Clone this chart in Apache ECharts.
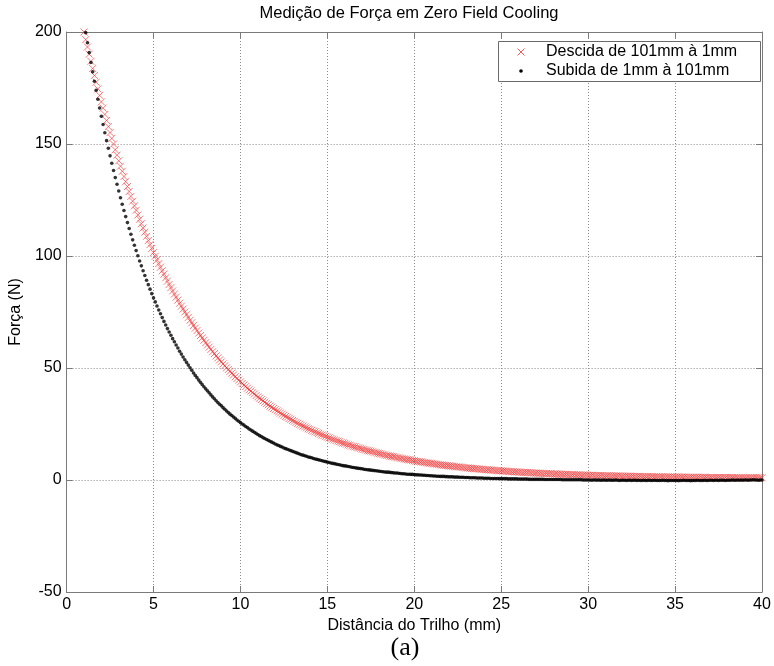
<!DOCTYPE html>
<html><head><meta charset="utf-8">
<script src="https://cdn.jsdelivr.net/npm/echarts@6/dist/echarts.min.js"></script>
<style>html,body{margin:0;padding:0;background:#fff}#c{width:774px;height:666px}</style>
</head><body><div id="c"></div>
<script>
const titleText = 'Medição de Força em Zero Field Cooling';
const xAxisName = 'Distância do Trilho (mm)';
const yAxisName = 'Força (N)';
const captionText = '(a)';
const seriesNames = ['Descida de 101mm à 1mm', 'Subida de 1mm à 101mm'];
const xRange = [0, 40, 5];
const yRange = [-50, 200, 50];

// distance grid: Descida starts at 1.0 mm, Subida at 1.1 mm, step 0.1 mm
const descidaStart = 1.0;
const subidaStart = 1.1;
const distStep = 0.1;

const descidaForce = [200.0,
196.6,193.3,190.1,186.9,183.7,180.6,177.6,174.6,171.7,168.8,
166.0,163.2,160.5,157.8,155.1,152.5,150.0,147.4,145.0,142.5,
140.1,137.8,135.5,133.2,131.0,128.8,126.6,124.5,122.4,120.4,
118.3,116.4,114.4,112.5,110.6,108.8,106.9,105.1,103.4,101.6,
99.9,98.3,96.6,95.0,93.4,91.9,90.3,88.8,87.3,85.9,
84.4,83.0,81.6,80.3,78.9,77.6,76.3,75.0,73.8,72.6,
71.3,70.2,69.0,67.8,66.7,65.6,64.5,63.4,62.4,61.3,
60.3,59.3,58.3,57.3,56.4,55.4,54.5,53.6,52.7,51.8,
51.0,50.1,49.3,48.5,47.7,46.9,46.1,45.3,44.6,43.8,
43.1,42.4,41.7,41.0,40.3,39.7,39.0,38.4,37.7,37.1,
36.5,35.9,35.3,34.7,34.1,33.6,33.0,32.5,31.9,31.4,
30.9,30.4,29.9,29.4,28.9,28.4,28.0,27.5,27.1,26.6,
26.2,25.7,25.3,24.9,24.5,24.1,23.7,23.3,22.9,22.6,
22.2,21.8,21.5,21.1,20.8,20.4,20.1,19.8,19.5,19.1,
18.8,18.5,18.2,17.9,17.6,17.4,17.1,16.8,16.5,16.3,
16.0,15.7,15.5,15.2,15.0,14.8,14.5,14.3,14.1,13.8,
13.6,13.4,13.2,13.0,12.8,12.6,12.4,12.2,12.0,11.8,
11.6,11.4,11.2,11.0,10.9,10.7,10.5,10.4,10.2,10.0,
9.9,9.7,9.6,9.4,9.3,9.1,9.0,8.9,8.7,8.6,
8.4,8.3,8.2,8.1,7.9,7.8,7.7,7.6,7.5,7.4,
7.2,7.1,7.0,6.9,6.8,6.7,6.6,6.5,6.4,6.3,
6.2,6.1,6.0,5.9,5.9,5.8,5.7,5.6,5.5,5.4,
5.4,5.3,5.2,5.1,5.0,5.0,4.9,4.8,4.8,4.7,
4.6,4.6,4.5,4.4,4.4,4.3,4.2,4.2,4.1,4.1,
4.0,4.0,3.9,3.8,3.8,3.7,3.7,3.6,3.6,3.5,
3.5,3.4,3.4,3.4,3.3,3.3,3.2,3.2,3.1,3.1,
3.1,3.0,3.0,2.9,2.9,2.9,2.8,2.8,2.8,2.7,
2.7,2.7,2.6,2.6,2.6,2.5,2.5,2.5,2.4,2.4,
2.4,2.4,2.3,2.3,2.3,2.2,2.2,2.2,2.2,2.1,
2.1,2.1,2.1,2.0,2.0,2.0,2.0,2.0,1.9,1.9,
1.9,1.9,1.8,1.8,1.8,1.8,1.8,1.8,1.7,1.7,
1.7,1.7,1.7,1.7,1.6,1.6,1.6,1.6,1.6,1.6,
1.5,1.5,1.5,1.5,1.5,1.5,1.5,1.4,1.4,1.4,
1.4,1.4,1.4,1.4,1.4,1.4,1.3,1.3,1.3,1.3,
1.3,1.3,1.3,1.3,1.3,1.3,1.2,1.2,1.2,1.2,
1.2,1.2,1.2,1.2,1.2,1.2,1.2,1.1,1.1,1.1,
1.1,1.1,1.1,1.1,1.1,1.1,1.1,1.1,1.1,1.1,
1.1,1.1,1.1,1.0,1.0,1.0,1.0,1.0,1.0,1.0,
1.0,1.0,1.0,1.0,1.0,1.0,1.0,1.0,1.0,1.0];

const subidaForce = [
199.7,195.2,190.8,186.4,182.2,178.0,174.0,170.0,166.1,162.4,
158.7,155.0,151.5,148.1,144.7,141.4,138.2,135.0,132.0,129.0,
126.0,123.1,120.3,117.6,114.9,112.3,109.7,107.2,104.8,102.4,
100.1,97.8,95.6,93.4,91.3,89.2,87.2,85.2,83.2,81.3,
79.5,77.7,75.9,74.2,72.5,70.8,69.2,67.6,66.1,64.6,
63.1,61.7,60.3,58.9,57.5,56.2,54.9,53.7,52.5,51.3,
50.1,49.0,47.8,46.7,45.7,44.6,43.6,42.6,41.6,40.7,
39.8,38.9,38.0,37.1,36.3,35.4,34.6,33.8,33.1,32.3,
31.6,30.8,30.1,29.4,28.8,28.1,27.5,26.8,26.2,25.6,
25.0,24.5,23.9,23.4,22.8,22.3,21.8,21.3,20.8,20.3,
19.8,19.4,18.9,18.5,18.1,17.7,17.3,16.9,16.5,16.1,
15.7,15.4,15.0,14.7,14.3,14.0,13.7,13.4,13.1,12.8,
12.5,12.2,11.9,11.6,11.3,11.1,10.8,10.6,10.3,10.1,
9.9,9.6,9.4,9.2,9.0,8.8,8.6,8.4,8.2,8.0,
7.8,7.6,7.4,7.3,7.1,6.9,6.8,6.6,6.4,6.3,
6.2,6.0,5.9,5.7,5.6,5.5,5.3,5.2,5.1,5.0,
4.8,4.7,4.6,4.5,4.4,4.3,4.2,4.1,4.0,3.9,
3.8,3.7,3.6,3.5,3.5,3.4,3.3,3.2,3.1,3.1,
3.0,2.9,2.8,2.8,2.7,2.6,2.6,2.5,2.5,2.4,
2.3,2.3,2.2,2.2,2.1,2.1,2.0,2.0,1.9,1.9,
1.8,1.8,1.7,1.7,1.6,1.6,1.6,1.5,1.5,1.4,
1.4,1.4,1.3,1.3,1.3,1.2,1.2,1.2,1.1,1.1,
1.1,1.0,1.0,1.0,1.0,0.9,0.9,0.9,0.9,0.8,
0.8,0.8,0.8,0.7,0.7,0.7,0.7,0.7,0.6,0.6,
0.6,0.6,0.6,0.5,0.5,0.5,0.5,0.5,0.5,0.4,
0.4,0.4,0.4,0.4,0.4,0.3,0.3,0.3,0.3,0.3,
0.3,0.3,0.3,0.3,0.2,0.2,0.2,0.2,0.2,0.2,
0.2,0.2,0.2,0.2,0.1,0.1,0.1,0.1,0.1,0.1,
0.1,0.1,0.1,0.1,0.1,0.1,0.0,0.0,0.0,0.0,
0.0,-0.1,0.0,0.0,-0.1,0.0,-0.1,-0.1,0.0,-0.1,
-0.1,0.0,-0.1,-0.1,-0.1,0.0,-0.1,-0.2,-0.1,-0.1,
-0.1,-0.2,-0.1,-0.1,-0.2,-0.1,-0.1,-0.2,-0.1,-0.2,
-0.2,-0.1,-0.2,-0.2,-0.1,-0.2,-0.2,-0.1,-0.2,-0.2,
-0.2,-0.2,-0.1,-0.2,-0.2,-0.3,-0.2,-0.2,-0.2,-0.2,
-0.2,-0.3,-0.2,-0.2,-0.1,-0.2,-0.2,-0.2,-0.3,-0.2,
-0.2,-0.2,-0.1,-0.2,-0.2,-0.2,-0.1,-0.2,-0.2,-0.1,
-0.1,-0.2,-0.1,-0.1,-0.2,-0.1,-0.1,-0.1,-0.2,-0.1,
-0.1,-0.1,0.0,-0.1,-0.1,0.0,-0.1,0.0,-0.1,0.0,
0.0,-0.1,0.0,0.0,0.1,0.0,0.0,-0.1,0.0,0.0];

const FONT = "'Liberation Sans', Arial, Helvetica, sans-serif";
const AXIS_GRAY = '#7a7a7a';
const xSymbol = 'path://M0,0L10,10M10,0L0,10';

function toPairs(start, arr) {
  return arr.map((v, i) => [Math.round((start + i * distStep) * 10) / 10, v]);
}

const chart = echarts.init(document.getElementById('c'), null, {renderer: 'canvas'});

const commonAxisLine = {show: true, onZero: false, lineStyle: {color: AXIS_GRAY, width: 1}};
const commonTick = {show: true, inside: true, length: 6, lineStyle: {color: AXIS_GRAY, width: 1}};
const gridLine = {show: true, lineStyle: {color: '#8a8a8a', width: 1, type: [1, 2]}};

const option = {
  animation: false,
  backgroundColor: '#ffffff',
  grid: {left: 55, right: 12, top: 32, bottom: 74, containLabel: false},
  xAxis: [
    {type: 'value', position: 'bottom', min: xRange[0], max: xRange[1], interval: xRange[2],
     axisLine: commonAxisLine, axisTick: commonTick, splitLine: gridLine,
     axisLabel: {color: '#000', fontSize: 16, fontFamily: FONT, margin: 5},
     name: xAxisName, nameLocation: 'middle', nameGap: 22,
     nameTextStyle: {color: '#000', fontSize: 16, fontFamily: FONT}},
    {type: 'value', position: 'top', min: xRange[0], max: xRange[1], interval: xRange[2],
     axisLine: commonAxisLine, axisTick: commonTick, splitLine: {show: false}, axisLabel: {show: false}}
  ],
  yAxis: [
    {type: 'value', position: 'left', min: yRange[0], max: yRange[1], interval: yRange[2],
     axisLine: commonAxisLine, axisTick: commonTick, splitLine: gridLine,
     axisLabel: {color: '#000', fontSize: 16, fontFamily: FONT, margin: 5},
     name: yAxisName, nameLocation: 'middle', nameGap: 28, nameRotate: 90,
     nameTextStyle: {color: '#000', fontSize: 16, fontFamily: FONT}},
    {type: 'value', position: 'right', min: yRange[0], max: yRange[1], interval: yRange[2],
     axisLine: commonAxisLine, axisTick: commonTick, splitLine: {show: false}, axisLabel: {show: false}}
  ],
  series: [
    {type: 'scatter', name: seriesNames[0], xAxisIndex: 0, yAxisIndex: 0,
     data: toPairs(descidaStart, descidaForce),
     symbol: xSymbol, symbolSize: 7, silent: true, z: 2,
     itemStyle: {color: 'rgba(0,0,0,0)', borderColor: '#ee3030', borderWidth: 0.8}},
    {type: 'scatter', name: seriesNames[1], xAxisIndex: 0, yAxisIndex: 0,
     data: toPairs(subidaStart, subidaForce),
     symbol: 'circle', symbolSize: 3.6, silent: true, z: 3,
     itemStyle: {color: '#000'}}
  ],
  graphic: [
    {type: 'text', x: 409, y: 13, z: 10,
     style: {text: titleText, fill: '#000', font: '16.5px ' + FONT, align: 'center', verticalAlign: 'middle'}},
    {type: 'text', x: 405, y: 648, z: 10,
     style: {text: captionText, fill: '#000', font: '26px "Liberation Serif", "Times New Roman", serif', align: 'center', verticalAlign: 'middle'}},
    {type: 'rect', z: 10, shape: {x: 498.5, y: 41.5, width: 262, height: 40},
     style: {fill: '#fff', stroke: '#6a6a6a', lineWidth: 1}},
    {type: 'line', z: 11, shape: {x1: 517.5, y1: 48.5, x2: 524.5, y2: 55.5}, style: {stroke: '#ee3030', lineWidth: 0.8}},
    {type: 'line', z: 11, shape: {x1: 524.5, y1: 48.5, x2: 517.5, y2: 55.5}, style: {stroke: '#ee3030', lineWidth: 0.8}},
    {type: 'circle', z: 11, shape: {cx: 521, cy: 71, r: 1.8}, style: {fill: '#000'}},
    {type: 'text', z: 11, x: 546, y: 52,
     style: {text: seriesNames[0], fill: '#000', font: '16px ' + FONT, align: 'left', verticalAlign: 'middle'}},
    {type: 'text', z: 11, x: 546, y: 71,
     style: {text: seriesNames[1], fill: '#000', font: '16px ' + FONT, align: 'left', verticalAlign: 'middle'}}
  ]
};
chart.setOption(option);
</script>
</body></html>
